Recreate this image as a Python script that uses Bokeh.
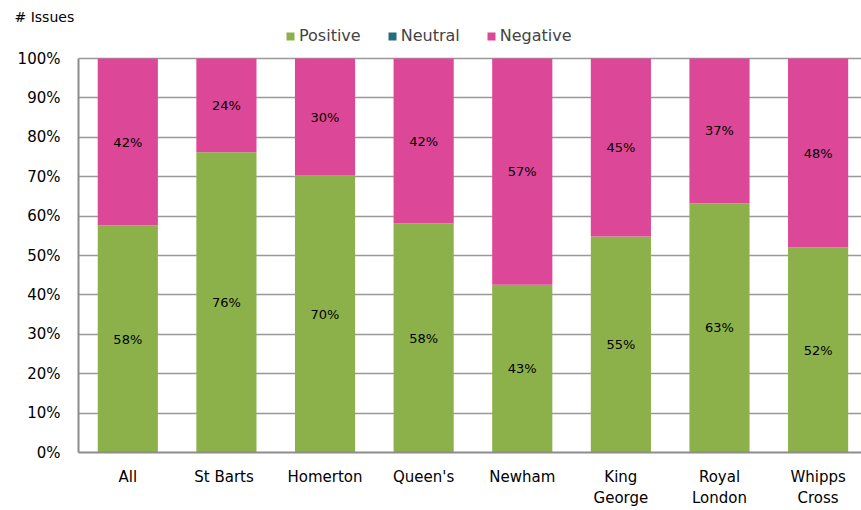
from bokeh.plotting import figure
from bokeh.models import ColumnDataSource, LabelSet, Legend, LegendItem, FixedTicker, Range1d
from bokeh.embed import file_html
from bokeh.resources import INLINE
from bokeh.core.properties import value

categories = ["All", "St  Barts", "Homerton", "Queen's", "Newham", "King\nGeorge", "Royal\nLondon", "Whipps\nCross"]
positive = [57.6, 76.2, 70.3, 58.1, 42.6, 54.8, 63.2, 52.0]
neutral = [0, 0, 0, 0, 0, 0, 0, 0]
negative = [42.4, 23.8, 29.7, 41.9, 57.4, 45.2, 36.8, 48.0]
y_ticks = [0, 10, 20, 30, 40, 50, 60, 70, 80, 90, 100]

GREEN = "#8DB14A"
TEAL = "#246B7D"
PINK = "#DC4897"
FONT = "DejaVu Sans"

x = list(range(len(categories)))
pos_mid = [p / 2 for p in positive]
neg_mid = [p + n + ng / 2 for p, n, ng in zip(positive, neutral, negative)]
src = ColumnDataSource(dict(
    x=x, Positive=positive, Neutral=neutral, Negative=negative,
    pos_mid=pos_mid, neg_mid=neg_mid,
    pos_lbl=[f"{round(v)}%" for v in positive],
    neg_lbl=[f"{round(v)}%" for v in negative],
))

p = figure(width=861, height=510, output_backend="svg", toolbar_location=None,
           x_range=Range1d(-0.5, 7.44), y_range=Range1d(0, 108.63),
           title="# Issues",
           min_border_left=78, min_border_right=0, min_border_top=24, min_border_bottom=58)
p.outline_line_color = None
p.title.text_font = FONT
p.title.text_font_size = "14px"
p.title.text_font_style = "normal"
p.title.text_color = "black"
p.title.align = "left"
p.title.offset = -64
p.title.standoff = 0

rs = p.vbar_stack(["Positive", "Neutral", "Negative"], x="x", width=0.61, source=src,
                  color=[GREEN, TEAL, PINK], line_color=None)

for col, lblcol in (("pos_mid", "pos_lbl"), ("neg_mid", "neg_lbl")):
    p.add_layout(LabelSet(x="x", y=col, text=lblcol, source=src, text_align="center",
                          text_baseline="middle", text_font=value(FONT), text_font_size="13px",
                          text_color="black"))

p.xaxis.ticker = FixedTicker(ticks=x)
p.xaxis.major_label_overrides = {i: c for i, c in enumerate(categories)}
p.yaxis.ticker = FixedTicker(ticks=y_ticks)
p.yaxis.major_label_overrides = {t: f"{t}%" for t in y_ticks}
p.yaxis.bounds = (0, 100)
for ax in (p.xaxis, p.yaxis):
    ax.axis_line_color = "#8C8C8C"
    ax.axis_line_width = 2
    ax.major_tick_line_color = None
    ax.minor_tick_line_color = None
    ax.major_label_text_font = FONT
    ax.major_label_text_font_size = "15px"
    ax.major_label_text_color = "black"
p.xaxis.major_label_standoff = 9
p.yaxis.major_label_standoff = 12
p.xgrid.grid_line_color = None
p.ygrid.grid_line_color = "#999999"
p.ygrid.grid_line_width = 1.5

legend = Legend(items=[LegendItem(label="Positive", renderers=[rs[0]]),
                       LegendItem(label="Neutral", renderers=[rs[1]]),
                       LegendItem(label="Negative", renderers=[rs[2]])],
                orientation="horizontal", location=(207, 407),
                label_text_font=FONT, label_text_font_size="16px",
                glyph_width=10, glyph_height=10, spacing=26, label_standoff=4,
                background_fill_alpha=0, border_line_color=None, padding=0, margin=0)
p.add_layout(legend, "center")

open("out.html", "w").write(file_html(p, INLINE))
